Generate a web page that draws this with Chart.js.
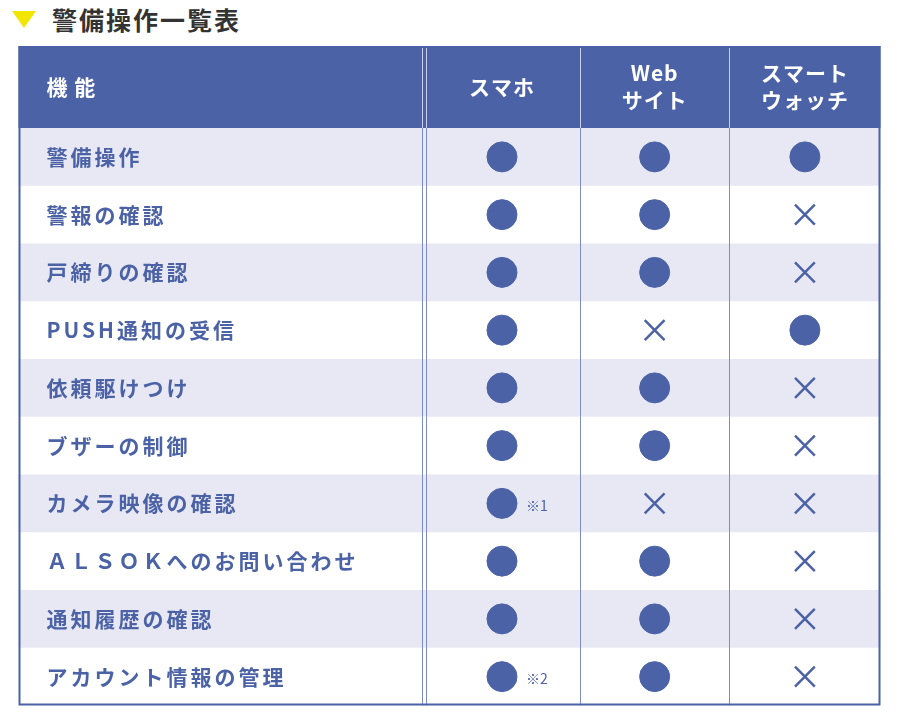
<!DOCTYPE html>
<html><head><meta charset="utf-8">
<script src="https://cdn.jsdelivr.net/npm/chart.js@4/dist/chart.umd.min.js"></script>
<style>
body{margin:0;background:#fff;font-family:"Noto Sans CJK JP",sans-serif;}
#title{position:absolute;left:12px;top:2px;height:34px;display:flex;align-items:center;font-weight:bold;font-size:25px;color:#333;letter-spacing:2px}
#tri{width:0;height:0;border-left:12px solid transparent;border-right:12px solid transparent;border-top:17px solid #f2e600;margin-right:16px}
#wrap{position:absolute;left:2px;top:46px;width:895px;height:676px}
</style></head><body>
<div id="title"><div id="tri"></div>警備操作一覧表</div>
<div id="wrap"><canvas id="c"></canvas></div>
<script>
// rows and columns
const features = ['警備操作','警報の確認','戸締りの確認','PUSH通知の受信','依頼駆けつけ','ブザーの制御','カメラ映像の確認','ＡＬＳＯＫへのお問い合わせ','通知履歴の確認','アカウント情報の管理'];
const headers = [['機 能'],['スマホ'],['Web','サイト'],['スマート','ウォッチ']];
const colEdges = [0, 421, 583, 738, 895];
// 1 = supported, 0 = not
const phone = [1,1,1,1,1,1,1,1,1,1];
const web   = [1,1,1,0,1,1,0,1,1,1];
const watch = [1,0,0,1,0,0,0,0,0,0];
const notes = {6:'※1', 9:'※2'};

const blue = '#4b62a6';
const cols = [phone, web, watch];
const circles = [], crosses = [];
cols.forEach((vals, ci) => {
  const x = (colEdges[ci+1] + colEdges[ci+2]) / 2;
  vals.forEach((v, ri) => (v ? circles : crosses).push({x: x, y: features[ri]}));
});

const tablePlugin = {
  id: 'table',
  beforeDatasetsDraw(chart) {
    const {ctx, chartArea: a, scales: {x, y}} = chart;
    const band = (a.bottom - a.top) / features.length;
    ctx.save();
    features.forEach((f, i) => {
      if (i % 2 === 0) {
        ctx.fillStyle = '#e7e8f3';
        const cy = y.getPixelForValue(i);
        ctx.fillRect(a.left, cy - band/2, a.right - a.left, band);
      }
    });
    // row labels from the y scale
    ctx.fillStyle = blue;
    ctx.font = 'bold 21px "Noto Sans CJK JP"';
    ctx.textBaseline = 'middle';
    ctx.textAlign = 'left';
    ctx.letterSpacing = '3px';
    y.getLabels().forEach((t, i) => ctx.fillText(t, a.left + 28, y.getPixelForValue(i)));
    // header
    ctx.fillStyle = blue;
    ctx.fillRect(a.left, 0, a.right - a.left, a.top);
    ctx.fillStyle = '#fff';
    ctx.letterSpacing = '1px';
    headers.forEach((h, i) => {
      let cx;
      if (i === 0) { ctx.textAlign = 'left'; cx = a.left + 28; }
      else { ctx.textAlign = 'center'; cx = x.getPixelForValue((colEdges[i] + colEdges[i+1]) / 2); }
      h.forEach((t, k) => ctx.fillText(t, cx, a.top/2 + (k - (h.length-1)/2) * 27));
    });
    ctx.letterSpacing = '0px';
    // vertical lines
    ctx.lineWidth = 1;
    [1,2,3].forEach(i => {
      const px = Math.round(x.getPixelForValue(colEdges[i])) + 0.5;
      const xs = i === 1 ? [px - 2, px + 2] : [px];
      xs.forEach(xx => {
        ctx.strokeStyle = '#c9cfe6';
        ctx.beginPath(); ctx.moveTo(xx, 0); ctx.lineTo(xx, a.top); ctx.stroke();
        ctx.strokeStyle = '#7d8dc2';
        ctx.beginPath(); ctx.moveTo(xx, a.top); ctx.lineTo(xx, a.bottom); ctx.stroke();
      });
    });
    ctx.strokeStyle = blue; ctx.lineWidth = 2;
    ctx.strokeRect(a.left + 1, 1, a.right - a.left - 2, a.bottom - 2);
    // notes
    ctx.fillStyle = blue; ctx.font = '14px "Noto Sans CJK JP"'; ctx.textAlign = 'left';
    Object.keys(notes).forEach(r => {
      const cx = x.getPixelForValue((colEdges[1] + colEdges[2]) / 2);
      ctx.fillText(notes[r], cx + 24, y.getPixelForValue(+r) + 2);
    });
    ctx.restore();
  }
};

new Chart(document.getElementById('c'), {
  type: 'scatter',
  data: {
    datasets: [
      {data: circles, pointStyle: 'circle', pointRadius: 15, pointHoverRadius: 15, backgroundColor: blue, borderColor: blue},
      {data: crosses, pointStyle: 'crossRot', pointRadius: 14, pointHoverRadius: 14, borderColor: blue, borderWidth: 2.5}
    ]
  },
  options: {
    responsive: true, maintainAspectRatio: false, animation: false,
    layout: {padding: {top: 82}},
    plugins: {legend: {display: false}, tooltip: {enabled: false}},
    scales: {
      x: {type: 'linear', min: colEdges[0], max: colEdges[4], display: false},
      y: {type: 'category', labels: features, offset: true, display: false}
    }
  },
  plugins: [tablePlugin]
});
</script>
</body></html>
